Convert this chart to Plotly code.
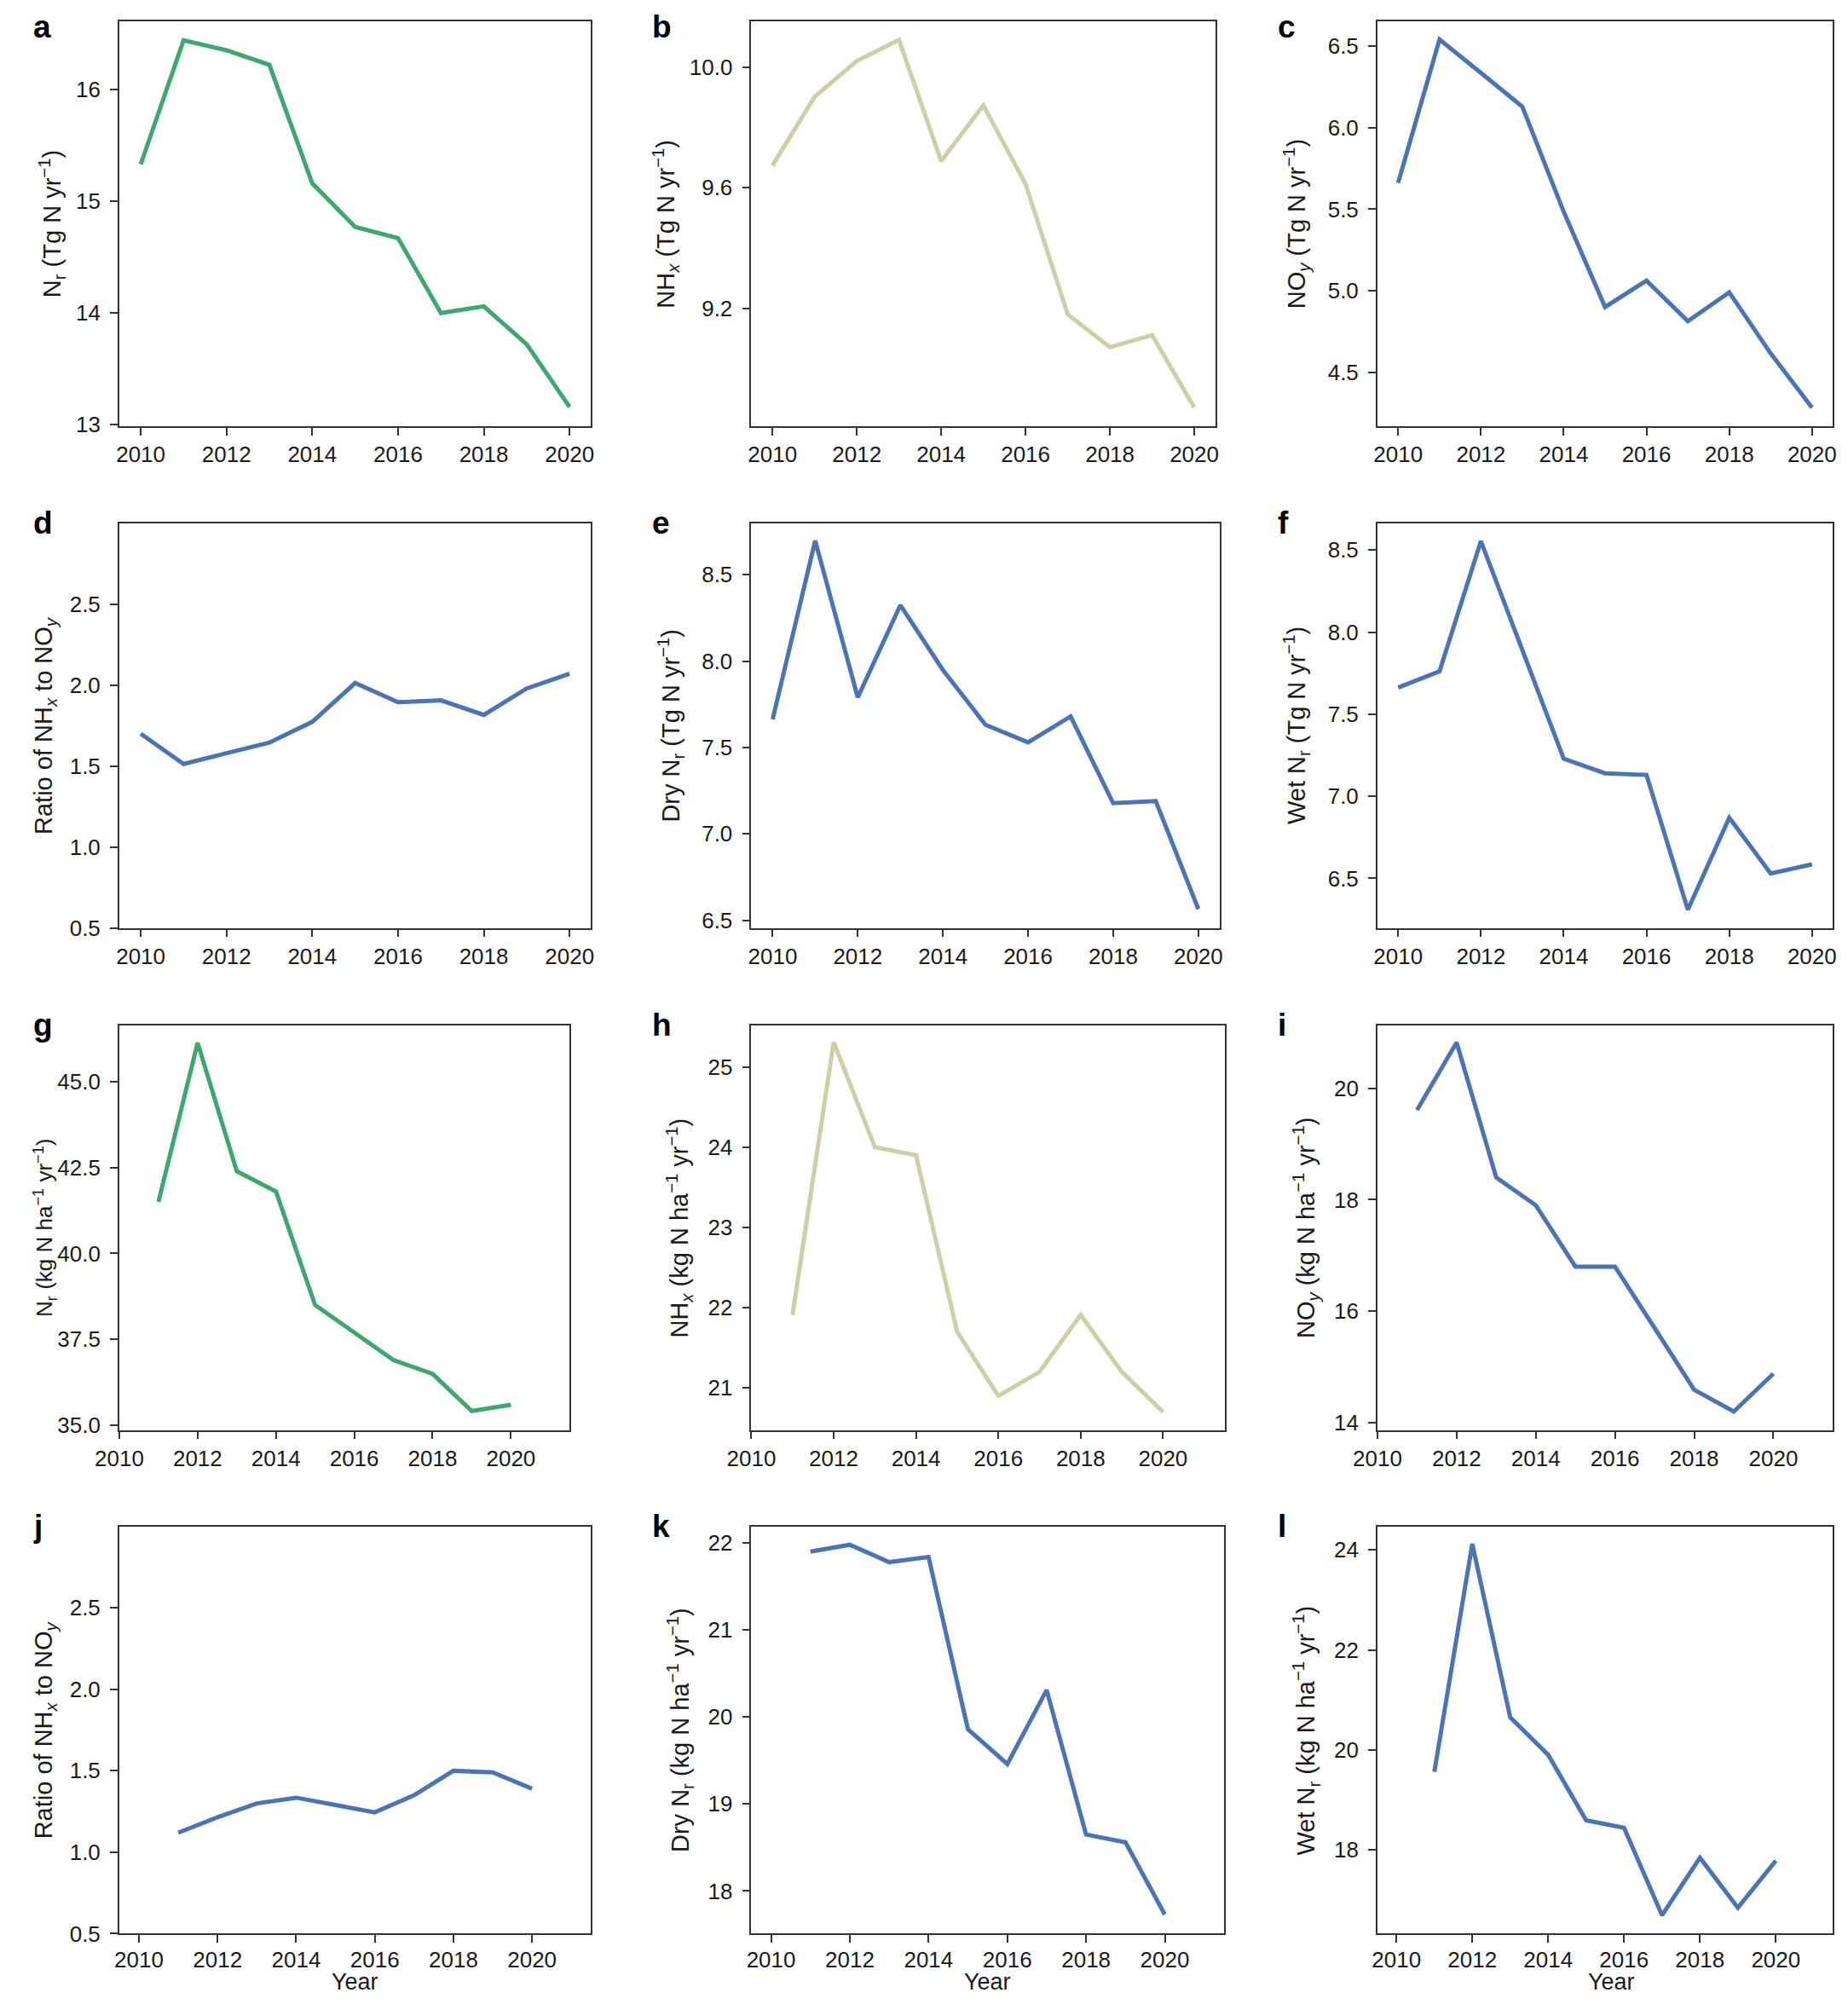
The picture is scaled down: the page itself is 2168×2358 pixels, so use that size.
import plotly.graph_objects as go

# Years on the x axis
years = [2010, 2011, 2012, 2013, 2014, 2015, 2016, 2017, 2018, 2019, 2020]
years_ha = [2011, 2012, 2013, 2014, 2015, 2016, 2017, 2018, 2019, 2020]

# Totals (Tg N yr-1)
nr_total = [15.33, 16.44, 16.35, 16.22, 15.16, 14.77, 14.67, 14.0, 14.06, 13.72, 13.16]
nhx_total = [9.673, 9.902, 10.02, 10.09, 9.688, 9.873, 9.612, 9.18, 9.071, 9.111, 8.871]
noy_total = [5.662, 6.541, 6.336, 6.129, 5.485, 4.90, 5.062, 4.813, 4.99, 4.616, 4.283]
ratio_total = [1.70, 1.513, 1.579, 1.645, 1.773, 2.013, 1.895, 1.906, 1.816, 1.979, 2.07]
dry_total = [7.663, 8.697, 7.79, 8.324, 7.949, 7.632, 7.53, 7.68, 7.178, 7.19, 6.565]
wet_total = [7.662, 7.761, 8.554, 7.89, 7.229, 7.14, 7.13, 6.309, 6.869, 6.53, 6.585]

# Fluxes (kg N ha-1 yr-1)
nr_ha = [41.5, 46.12, 42.39, 41.8, 38.5, 37.71, 36.9, 36.5, 35.42, 35.6]
nhx_ha = [21.91, 25.31, 24.0, 23.9, 21.7, 20.9, 21.2, 21.91, 21.2, 20.7]
noy_ha = [19.61, 20.82, 18.4, 17.9, 16.8, 16.8, 15.7, 14.59, 14.2, 14.88]
ratio_ha = [1.12, 1.215, 1.30, 1.335, 1.29, 1.245, 1.35, 1.5, 1.49, 1.39]
dry_ha = [21.9, 21.98, 21.78, 21.84, 19.86, 19.46, 20.31, 18.65, 18.56, 17.73]
wet_ha = [19.56, 24.12, 20.65, 19.9, 18.59, 18.44, 16.69, 17.84, 16.84, 17.78]

GREEN = "#3ca86e"
KHAKI = "#cfcea7"
BLUE = "#4a74b6"

# page body has an 8px margin, so keep the figure inside the window
OFF = 8
W, H = 2168 - 2 * OFF, 2358 - 2 * OFF

tg = " (Tg N yr<sup>−1</sup>)"
kg = " (kg N ha<sup>−1</sup> yr<sup>−1</sup>)"
ratio_title = "Ratio of NH<sub><i>x</i></sub> to NO<sub><i>y</i></sub>"

# letter, x, y, colour, y title, y range, y ticks, tick format, x range
panels = [
    ("a", years, nr_total, GREEN, "N<sub>r</sub>" + tg, [12.99, 16.61], [13, 14, 15, 16], "d", [2009.5, 2020.5]),
    ("b", years, nhx_total, KHAKI, "NH<sub><i>x</i></sub>" + tg, [8.81, 10.152], [9.2, 9.6, 10.0], ".1f", [2009.5, 2020.5]),
    ("c", years, noy_total, BLUE, "NO<sub><i>y</i></sub>" + tg, [4.171, 6.653], [4.5, 5.0, 5.5, 6.0, 6.5], ".1f", [2009.5, 2020.5]),
    ("d", years, ratio_total, BLUE, ratio_title, [0.5, 3.0], [0.5, 1.0, 1.5, 2.0, 2.5], ".1f", [2009.5, 2020.5]),
    ("e", years, dry_total, BLUE, "Dry N<sub>r</sub>" + tg, [6.456, 8.798], [6.5, 7.0, 7.5, 8.0, 8.5], ".1f", [2009.5, 2020.5]),
    ("f", years, wet_total, BLUE, "Wet N<sub>r</sub>" + tg, [6.198, 8.663], [6.5, 7.0, 7.5, 8.0, 8.5], ".1f", [2009.5, 2020.5]),
    ("g", years_ha, nr_ha, GREEN, "N<sub>r</sub>" + kg, [34.87, 46.63], [35, 37.5, 40, 42.5, 45], ".1f", [2010, 2021.5]),
    ("h", years_ha, nhx_ha, KHAKI, "NH<sub><i>x</i></sub>" + kg, [20.476, 25.52], [21, 22, 23, 24, 25], "d", [2010, 2021.5]),
    ("i", years_ha, noy_ha, BLUE, "NO<sub><i>y</i></sub>" + kg, [13.87, 21.13], [14, 16, 18, 20], "d", [2010, 2021.5]),
    ("j", years_ha, ratio_ha, BLUE, ratio_title, [0.5, 3.0], [0.5, 1.0, 1.5, 2.0, 2.5], ".1f", [2009.5, 2021.5]),
    ("k", years_ha, dry_ha, BLUE, "Dry N<sub>r</sub>" + kg, [17.51, 22.19], [18, 19, 20, 21, 22], "d", [2009.5, 2021.5]),
    ("l", years_ha, wet_ha, BLUE, "Wet N<sub>r</sub>" + kg, [16.32, 24.47], [18, 20, 22, 24], "d", [2009.5, 2021.5]),
]

# plot boxes as seen in the picture: x0, x1, y0 (top), y1 (bottom)
boxes = [
    (137, 690, 23, 497), (878, 1422, 23, 497), (1612, 2160, 23, 497),
    (137, 690, 611, 1085), (878, 1427, 611, 1085), (1612, 2160, 611, 1085),
    (137, 665, 1199, 1673), (878, 1433, 1199, 1673), (1612, 2160, 1199, 1673),
    (137, 690, 1786, 2263), (878, 1432, 1786, 2263), (1612, 2160, 1786, 2263),
]
ytitle_x = [58, 778, 1517, 46, 784, 1517, 28, 794, 1528, 44, 794, 1528]
letter_x = [0, 760, 1493]

# the photographed page sits slightly offset / scaled in the picture
SX, SX0 = 0.984, 26.25
SY, SY0 = 0.992, -1.8


def px_x(v, lo=0, hi=None):
    p = (v - SX0) / SX - OFF
    p = max(p, lo)
    if hi is not None:
        p = min(p, hi)
    return p / W


def px_y(v, hi=None):
    p = (v - SY0) / SY - OFF
    if hi is not None:
        p = min(p, hi)
    return 1 - p / H


FONT = "Liberation Sans, Arial, sans-serif"
tick_font = dict(family=FONT, size=26, color="#1a1a1a")

fig = go.Figure()
annotations = []
layout = {}

for i, (letter, xs, ys, color, ytitle, yr, yt, fmt, xr) in enumerate(panels):
    n = i + 1
    x0, x1, y0, y1 = boxes[i]
    xa = "xaxis" if n == 1 else f"xaxis{n}"
    ya = "yaxis" if n == 1 else f"yaxis{n}"
    xref = "x" if n == 1 else f"x{n}"
    yref = "y" if n == 1 else f"y{n}"

    fig.add_trace(go.Scatter(x=xs, y=ys, mode="lines", xaxis=xref, yaxis=yref,
                             line=dict(color=color, width=5), showlegend=False))

    axis_common = dict(showline=True, linecolor="#333333", linewidth=1.8, mirror=True,
                       ticks="outside", ticklen=9, tickwidth=1.6, tickcolor="#333333",
                       showgrid=False, zeroline=False, tickfont=tick_font)
    layout[xa] = dict(axis_common, domain=[px_x(x0), px_x(x1, hi=2146)], range=xr, anchor=yref,
                      tickvals=[2010, 2012, 2014, 2016, 2018, 2020],
                      ticklabelstandoff=-3 if i >= 9 else 0)
    layout[ya] = dict(axis_common, domain=[px_y(y1), px_y(y0)], range=yr, anchor=xref,
                      tickvals=yt, tickformat=fmt, ticklabelstandoff=6)

    # the far-left titles have little room, so the kg-based one is a touch smaller
    tsize = 26 if letter == "g" else 29
    annotations.append(dict(text=ytitle, x=px_x(ytitle_x[i], lo=16), y=px_y((y0 + y1) / 2),
                            xref="paper", yref="paper", textangle=-90, showarrow=False,
                            xanchor="center", yanchor="middle",
                            font=dict(family=FONT, size=tsize, color="#1a1a1a")))
    annotations.append(dict(text="<b>" + letter + "</b>", x=px_x(letter_x[i % 3]),
                            y=min(px_y(y0), 1 - 24 / H), xref="paper", yref="paper", showarrow=False,
                            xanchor="left", yanchor="middle",
                            font=dict(family=FONT, size=37, color="black")))
    if i >= 9:
        annotations.append(dict(text="Year", x=px_x((x0 + x1) / 2), y=px_y(2336, hi=2332),
                                xref="paper", yref="paper", showarrow=False,
                                xanchor="center", yanchor="middle",
                                font=dict(family=FONT, size=27, color="#1a1a1a")))

fig.update_layout(width=W, height=H, margin=dict(l=0, r=0, t=0, b=0), autosize=False,
                  plot_bgcolor="white", paper_bgcolor="white",
                  annotations=annotations, **layout)

fig.write_html("out.html")
